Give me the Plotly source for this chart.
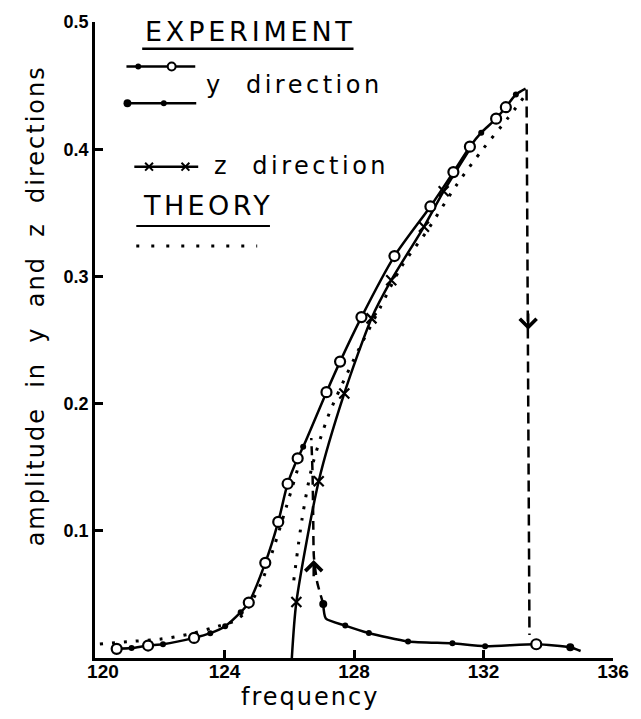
import plotly.graph_objects as go

# ---- measured data -------------------------------------------------------
# y direction, increasing-frequency sweep (o = open circle, d = filled dot)
y_up_freq = [120.67, 121.13, 121.64, 122.10, 123.06, 123.56, 124.02, 124.50,
             124.75, 125.26, 125.66, 125.95, 126.26, 126.43, 127.15, 127.57,
             128.23, 129.25, 130.36, 131.07, 131.58, 131.93, 132.39, 132.69,
             133.00, 133.30]
y_up_amp = [0.0072, 0.0078, 0.0098, 0.0108, 0.0158, 0.0195, 0.025, 0.036,
            0.0436, 0.0748, 0.107, 0.137, 0.157, 0.166, 0.209, 0.233,
            0.268, 0.316, 0.355, 0.382, 0.402, 0.413, 0.424, 0.433,
            0.443, 0.4476]
y_up_kind = ['o', 'd', 'o', 'd', 'o', 'd', 'd', 'd',
             'o', 'o', 'o', 'o', 'o', 'd', 'o', 'o',
             'o', 'o', 'o', 'o', 'o', 'd', 'o', 'o',
             'd', '']

# y direction, lower branch (decreasing sweep)
y_low_freq = [127.05, 127.13, 127.73, 128.46, 129.67, 131.04, 132.05, 133.63, 134.68, 135.00]
y_low_amp = [0.0425, 0.031, 0.0255, 0.0196, 0.013, 0.0115, 0.0093, 0.0108, 0.0085, 0.0055]
y_low_kind = ['D', '', 'd', 'd', 'd', 'd', 'd', 'o', 'D', '']

# jumps between branches
jump_down_freq = [133.33, 133.38, 133.42]
jump_down_amp = [0.4470, 0.250, 0.018]
jump_up_freq = [127.05, 126.86, 126.76, 126.74, 126.72, 126.68]
jump_up_amp = [0.0425, 0.060, 0.080, 0.110, 0.145, 0.173]
arrow_down_at = (133.38, 0.258)
arrow_up_at = (126.755, 0.077)

# z direction
z_freq = [126.08, 126.22, 126.91, 127.70, 128.54, 129.15, 130.16, 130.77, 131.55]
z_amp = [0.0, 0.044, 0.139, 0.208, 0.267, 0.297, 0.339, 0.367, 0.399]
z_kind = ['', 'x', 'x', 'x', 'x', 'x', 'x', 'x', '']

# theory
th_y_freq = [120.15, 121.0, 122.0, 122.9, 123.8, 124.3, 124.6, 125.1, 125.5, 125.9, 126.3]
th_y_amp = [0.011, 0.0128, 0.0148, 0.0187, 0.025, 0.029, 0.035, 0.057, 0.085, 0.118, 0.152]
th_z_freq = [126.14, 126.40, 126.70, 127.20, 128.00, 128.80, 129.45, 130.26, 131.17, 131.98, 132.74, 133.25]
th_z_amp = [0.061, 0.110, 0.150, 0.190, 0.235, 0.275, 0.307, 0.336, 0.372, 0.400, 0.424, 0.441]

x_ticks = [120, 124, 128, 132, 136]
x_ticktext = ["\u00a0\u00a0\u00a0120", "124", "128", "132", "136"]
y_ticks = [0.1, 0.2, 0.3, 0.4, 0.5]

# ---- styling helpers -----------------------------------------------------
BLACK = "black"
TEXT_FONT = "DejaVu Sans"
TICK_FONT = "Liberation Sans"

W, H = 641, 719
L, R, T, B = 95, 622, 16, 658


def px(x):
    return (x - L) / (R - L)


def py(y):
    return (B - y) / (B - T)


def marker_style(kinds):
    size = {'o': 10, 'd': 6, 'D': 8, 'x': 10, '': 0}
    color = {'o': 'white', 'd': BLACK, 'D': BLACK, 'x': BLACK, '': 'rgba(0,0,0,0)'}
    lw = {'o': 2.2, 'd': 0, 'D': 0, 'x': 2.2, '': 0}
    sym = {'o': 'circle', 'd': 'circle', 'D': 'circle', 'x': 'x-thin-open', '': 'circle'}
    return dict(
        symbol=[sym[k] for k in kinds],
        size=[size[k] for k in kinds],
        color=[color[k] for k in kinds],
        opacity=1,
        line=dict(color=BLACK, width=[lw[k] for k in kinds]),
    )


fig = go.Figure()

# theory curves
for fx, fy in [(th_y_freq, th_y_amp), (th_z_freq, th_z_amp)]:
    fig.add_trace(go.Scatter(
        x=fx, y=fy, mode="lines",
        line=dict(color=BLACK, width=3, dash="3px,9px", shape="spline", smoothing=0.8),
        hoverinfo="skip"))

# jumps
fig.add_trace(go.Scatter(x=jump_down_freq, y=jump_down_amp, mode="lines",
                         line=dict(color=BLACK, width=2.5, dash="11px,6px")))
fig.add_trace(go.Scatter(x=jump_up_freq, y=jump_up_amp, mode="lines",
                         line=dict(color=BLACK, width=2.5, dash="9px,6px",
                                   shape="spline", smoothing=0.6)))

# experimental curves
fig.add_trace(go.Scatter(x=z_freq, y=z_amp, mode="lines+markers",
                         line=dict(color=BLACK, width=2.5, shape="spline", smoothing=0.7),
                         marker=marker_style(z_kind)))
fig.add_trace(go.Scatter(x=y_low_freq, y=y_low_amp, mode="lines+markers",
                         line=dict(color=BLACK, width=2.5, shape="spline", smoothing=0.6),
                         marker=marker_style(y_low_kind)))
fig.add_trace(go.Scatter(x=y_up_freq, y=y_up_amp, mode="lines+markers",
                         line=dict(color=BLACK, width=2.5, shape="spline", smoothing=0.7),
                         marker=marker_style(y_up_kind)))

annotations = []
# direction arrows on the jumps
for (ax_, ay_), d in [(arrow_down_at, 1), (arrow_up_at, -1)]:
    annotations.append(dict(
        x=ax_, y=ay_, ax=ax_, ay=ay_ + d * 0.014, xref="x", yref="y",
        axref="x", ayref="y", text="", showarrow=True,
        arrowhead=4, arrowsize=1.3, arrowwidth=2.5, arrowcolor=BLACK))


def label(text, x, y, size, spacing, xanchor="left", angle=0):
    annotations.append(dict(
        text=f'<span style="letter-spacing:{spacing}px">{text}</span>',
        x=px(x), y=py(y), xref="paper", yref="paper",
        xanchor=xanchor, yanchor="middle", showarrow=False, textangle=angle,
        font=dict(family=TEXT_FONT, size=size, color=BLACK)))


# axis titles
label("amplitude\u00a0 in\u00a0 y\u00a0 and\u00a0 z\u00a0 directions", 35, 303, 24, 2, xanchor="center", angle=-90)
label("frequency", 314, 697, 24, 2, xanchor="center")

# key
label("EXPERIMENT", 144, 26, 27, 3.8)
label("y\u00a0 direction", 206, 80, 24, 3.5)
label("z\u00a0 direction", 214, 161, 24, 3.5)
label("THEORY", 142, 201, 27, 3.4)

shapes = []


def hline(x0, x1, y, width=2.5, dash="solid"):
    shapes.append(dict(type="line", xref="paper", yref="paper",
                       x0=px(x0), x1=px(x1), y0=py(y), y1=py(y),
                       line=dict(color=BLACK, width=width, dash=dash)))


def dot(x, y, r, fill=BLACK, lw=0):
    shapes.append(dict(type="circle", xref="paper", yref="paper",
                       x0=px(x - r), x1=px(x + r), y0=py(y + r), y1=py(y - r),
                       fillcolor=fill, line=dict(color=BLACK, width=lw)))


def cross(x, y, r):
    for s in (1, -1):
        shapes.append(dict(type="line", xref="paper", yref="paper",
                           x0=px(x - r), x1=px(x + r), y0=py(y - s * r), y1=py(y + s * r),
                           line=dict(color=BLACK, width=2)))


hline(143, 358, 43, width=2.5)          # EXPERIMENT underline
hline(127, 197, 61)                      # y key, rising sweep
dot(139, 61, 3)
dot(173, 61, 4, fill="white", lw=2)
hline(127, 198, 98)                      # y key, falling sweep
dot(128, 98, 4)
dot(165, 98, 3)
hline(135, 200, 162)                     # z key
cross(150, 162, 4)
cross(187, 162, 4)
hline(137, 273, 222, width=2)            # THEORY underline
hline(137, 260, 242, width=3, dash="3px,12px")

fig.update_layout(
    width=W, height=H,
    margin=dict(l=L, r=W - R, t=T, b=H - B, pad=0),
    paper_bgcolor="white", plot_bgcolor="white",
    showlegend=False,
    annotations=annotations, shapes=shapes,
    xaxis=dict(range=[120, 136], tickvals=x_ticks, ticktext=x_ticktext,
               ticks="inside", ticklen=8, tickwidth=2.5, tickcolor=BLACK,
               showline=True, linewidth=2.5, linecolor=BLACK,
               showgrid=False, zeroline=False, ticklabelstandoff=-6,
               tickfont=dict(family=TICK_FONT, size=19, color=BLACK, weight="bold")),
    yaxis=dict(range=[0, 0.5], tickvals=y_ticks, ticktext=[f"{v:.1f}" for v in y_ticks],
               ticks="inside", ticklen=8, tickwidth=2.5, tickcolor=BLACK,
               showline=True, linewidth=2.5, linecolor=BLACK,
               showgrid=False, zeroline=False,
               tickfont=dict(family=TICK_FONT, size=18, color=BLACK, weight="bold")),
)

fig.write_html("out.html")
